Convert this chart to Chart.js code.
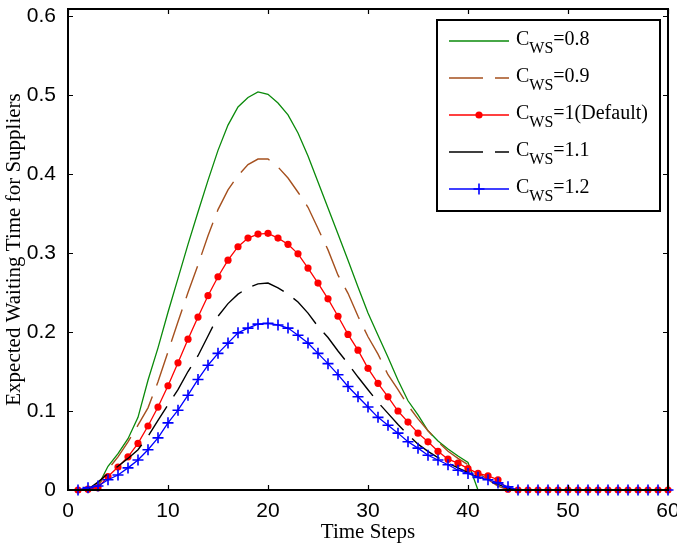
<!DOCTYPE html>
<html>
<head>
<meta charset="utf-8">
<script src="https://cdn.jsdelivr.net/npm/chart.js@4"></script>
<style>
  html, body { margin: 0; padding: 0; background: #fff; }
  #wrap { position: relative; width: 677px; height: 546px; }
</style>
</head>
<body>
<div id="wrap"><canvas id="waitChart" width="677" height="546"></canvas></div>
<script>
// --- Data ---
const timeSteps = [1, 2, 3, 4, 5, 6, 7, 8, 9, 10, 11, 12, 13, 14, 15, 16, 17, 18, 19, 20,
  21, 22, 23, 24, 25, 26, 27, 28, 29, 30, 31, 32, 33, 34, 35, 36, 37, 38, 39, 40,
  41, 42, 43, 44, 45, 46, 47, 48, 49, 50, 51, 52, 53, 54, 55, 56, 57, 58, 59, 60];

const cws08 = [0, 0.001, 0.005, 0.030, 0.046, 0.065, 0.092, 0.139, 0.180, 0.225,
  0.268, 0.311, 0.352, 0.392, 0.430, 0.462, 0.485, 0.497, 0.504, 0.501,
  0.490, 0.475, 0.452, 0.423, 0.390, 0.357, 0.324, 0.291, 0.257, 0.224,
  0.196, 0.168, 0.139, 0.113, 0.095, 0.075, 0.062, 0.052, 0.043, 0.035,
  0, 0, 0, 0, 0, 0, 0, 0, 0, 0, 0, 0, 0, 0, 0, 0, 0, 0, 0, 0];

const cws09 = [0, 0.001, 0.004, 0.026, 0.042, 0.061, 0.082, 0.104, 0.137, 0.175,
  0.213, 0.250, 0.285, 0.322, 0.355, 0.380, 0.398, 0.412, 0.419, 0.419,
  0.409, 0.395, 0.377, 0.358, 0.331, 0.304, 0.272, 0.249, 0.220, 0.194,
  0.172, 0.146, 0.127, 0.107, 0.090, 0.075, 0.061, 0.049, 0.040, 0.032,
  0.022, 0.013, 0.005, 0, 0, 0, 0, 0, 0, 0, 0, 0, 0, 0, 0, 0, 0, 0, 0, 0];

const cws10 = [0, 0.001, 0.003, 0.017, 0.029, 0.042, 0.059, 0.081, 0.105, 0.132,
  0.161, 0.191, 0.219, 0.246, 0.270, 0.291, 0.308, 0.319, 0.324, 0.325,
  0.319, 0.311, 0.299, 0.281, 0.262, 0.242, 0.220, 0.197, 0.177, 0.154,
  0.135, 0.118, 0.100, 0.086, 0.072, 0.061, 0.049, 0.039, 0.034, 0.027,
  0.021, 0.018, 0.013, 0.001, 0, 0, 0, 0, 0, 0, 0, 0, 0, 0, 0, 0, 0, 0, 0, 0];

const cws11 = [0, 0.001, 0.010, 0.021, 0.030, 0.040, 0.051, 0.068, 0.088, 0.108,
  0.127, 0.150, 0.170, 0.195, 0.220, 0.236, 0.248, 0.256, 0.261, 0.262,
  0.256, 0.248, 0.238, 0.224, 0.207, 0.193, 0.176, 0.160, 0.143, 0.127,
  0.111, 0.097, 0.083, 0.070, 0.058, 0.049, 0.041, 0.034, 0.028, 0.022,
  0.016, 0.012, 0.007, 0.002, 0, 0, 0, 0, 0, 0, 0, 0, 0, 0, 0, 0, 0, 0, 0, 0];

const cws12 = [0, 0.003, 0.005, 0.013, 0.019, 0.028, 0.038, 0.051, 0.066, 0.085,
  0.101, 0.120, 0.140, 0.158, 0.173, 0.186, 0.199, 0.205, 0.210, 0.211,
  0.209, 0.205, 0.196, 0.186, 0.173, 0.160, 0.146, 0.131, 0.118, 0.105,
  0.092, 0.082, 0.072, 0.061, 0.053, 0.044, 0.038, 0.032, 0.025, 0.021,
  0.016, 0.013, 0.009, 0.004, 0, 0, 0, 0, 0, 0, 0, 0, 0, 0, 0, 0, 0, 0, 0, 0];

const seriesValues = ['0.8', '0.9', '1(Default)', '1.1', '1.2'];
const xTickValues = [0, 10, 20, 30, 40, 50, 60];
const yTickValues = [0, 0.1, 0.2, 0.3, 0.4, 0.5, 0.6];

const SERIF = '"Liberation Serif", "Times New Roman", serif';
const SANS = '"Liberation Sans", Arial, sans-serif';

function toPoints(arr) {
  return timeSteps.map((t, i) => ({ x: t, y: arr[i] }));
}

const datasets = [
  { label: seriesValues[0], data: toPoints(cws08), borderColor: '#0a8a0a', borderWidth: 1.3,
    pointRadius: 0, order: 4, _marker: null },
  { label: seriesValues[1], data: toPoints(cws09), borderColor: '#a5501e', borderWidth: 1.4,
    borderDash: [34, 12], pointRadius: 0, order: 3, _marker: null },
  { label: seriesValues[2], data: toPoints(cws10), borderColor: '#ff0000', borderWidth: 1.3,
    pointStyle: 'circle', pointRadius: 3.6, pointBackgroundColor: '#ff0000',
    pointBorderColor: '#ff0000', pointBorderWidth: 0, order: 2, _marker: 'dot' },
  { label: seriesValues[3], data: toPoints(cws11), borderColor: '#000000', borderWidth: 1.4,
    borderDash: [34, 12], pointRadius: 0, order: 1, _marker: null },
  { label: seriesValues[4], data: toPoints(cws12), borderColor: '#0000ff', borderWidth: 1.3,
    pointStyle: 'cross', pointRadius: 5.5, pointBorderColor: '#0000ff',
    pointBorderWidth: 1.6, order: 0, _marker: 'plus' },
].map((ds) => Object.assign({ fill: false, tension: 0, clip: false, pointHoverRadius: 0 }, ds));

// Frame with inward ticks on all four sides (MATLAB "box on")
const framePlugin = {
  id: 'frame',
  afterDatasetsDraw(chart) {
    const { ctx, chartArea: a, scales } = chart;
    const tl = 5;
    ctx.save();
    ctx.strokeStyle = '#000';
    ctx.lineWidth = 1.2;
    ctx.beginPath();
    xTickValues.forEach((v) => {
      const px = Math.round(scales.x.getPixelForValue(v)) + 0.5;
      ctx.moveTo(px, a.bottom); ctx.lineTo(px, a.bottom - tl);
      ctx.moveTo(px, a.top); ctx.lineTo(px, a.top + tl);
    });
    yTickValues.forEach((v) => {
      const py = Math.round(scales.y.getPixelForValue(v)) + 0.5;
      ctx.moveTo(a.left, py); ctx.lineTo(a.left + tl, py);
      ctx.moveTo(a.right, py); ctx.lineTo(a.right - tl, py);
    });
    ctx.stroke();
    ctx.lineWidth = 2;
    ctx.strokeRect(a.left, a.top, a.right - a.left, a.bottom - a.top);
    ctx.restore();
  },
};

// Legend box with subscripted labels
const legendPlugin = {
  id: 'subLegend',
  afterDraw(chart) {
    const { ctx } = chart;
    const box = { x: 437, y: 20, w: 223, h: 191 };
    ctx.save();
    ctx.fillStyle = '#fff';
    ctx.fillRect(box.x, box.y, box.w, box.h);
    ctx.strokeStyle = '#000';
    ctx.lineWidth = 2;
    ctx.strokeRect(box.x, box.y, box.w, box.h);
    chart.data.datasets.forEach((ds, i) => {
      const y = 41 + i * 37;
      const x0 = 449, x1 = 509, xm = 479;
      ctx.strokeStyle = ds.borderColor;
      ctx.lineWidth = ds.borderWidth;
      ctx.setLineDash(ds.borderDash || []);
      ctx.beginPath();
      ctx.moveTo(x0, y);
      ctx.lineTo(x1, y);
      ctx.stroke();
      ctx.setLineDash([]);
      if (ds._marker === 'dot') {
        ctx.fillStyle = ds.borderColor;
        ctx.beginPath();
        ctx.arc(xm, y, 3.6, 0, Math.PI * 2);
        ctx.fill();
      } else if (ds._marker === 'plus') {
        ctx.lineWidth = 1.6;
        ctx.beginPath();
        ctx.moveTo(xm - 5.5, y); ctx.lineTo(xm + 5.5, y);
        ctx.moveTo(xm, y - 5.5); ctx.lineTo(xm, y + 5.5);
        ctx.stroke();
      }
      ctx.fillStyle = '#000';
      ctx.textBaseline = 'alphabetic';
      ctx.textAlign = 'left';
      let tx = 516;
      ctx.font = '20px ' + SERIF;
      ctx.fillText('C', tx, y + 4);
      tx += ctx.measureText('C').width;
      ctx.font = '16px ' + SERIF;
      ctx.fillText('WS', tx, y + 12);
      tx += ctx.measureText('WS').width;
      ctx.font = '20px ' + SERIF;
      ctx.fillText('=' + ds.label, tx, y + 4);
    });
    ctx.restore();
  },
};

new Chart(document.getElementById('waitChart'), {
  type: 'line',
  data: { datasets },
  plugins: [framePlugin, legendPlugin],
  options: {
    responsive: false,
    animation: false,
    events: [],
    layout: { padding: { top: 9, right: 9, left: 0, bottom: 0 } },
    plugins: { legend: { display: false }, tooltip: { enabled: false } },
    scales: {
      x: {
        type: 'linear',
        min: 0,
        max: 60,
        afterFit(scale) {
          scale.height = 56;
          scale.paddingLeft = 0;
          scale.paddingRight = 0;
        },
        afterBuildTicks(scale) { scale.ticks = xTickValues.map((v) => ({ value: v })); },
        grid: { display: false },
        border: { display: false },
        ticks: {
          autoSkip: false, maxRotation: 0, padding: 1, color: '#000',
          font: { family: SANS, size: 21 },
        },
        title: {
          display: true, text: 'Time Steps', color: '#000',
          font: { family: SERIF, size: 21 }, padding: { top: 0, bottom: 1 },
        },
      },
      y: {
        type: 'linear',
        min: 0,
        max: 0.609,
        afterFit(scale) {
          scale.width = 68;
          scale.paddingTop = 0;
          scale.paddingBottom = 0;
        },
        afterBuildTicks(scale) { scale.ticks = yTickValues.map((v) => ({ value: v })); },
        grid: { display: false },
        border: { display: false },
        ticks: {
          padding: 4, color: '#000',
          font: { family: SANS, size: 21 },
          callback: (v) => (v === 0 ? '0' : v.toFixed(1)),
        },
        title: {
          display: true, text: 'Expected Waiting Time for Suppliers', color: '#000',
          font: { family: SERIF, size: 21 }, padding: { top: 2, bottom: 0 },
        },
      },
    },
  },
});
</script>
</body>
</html>
